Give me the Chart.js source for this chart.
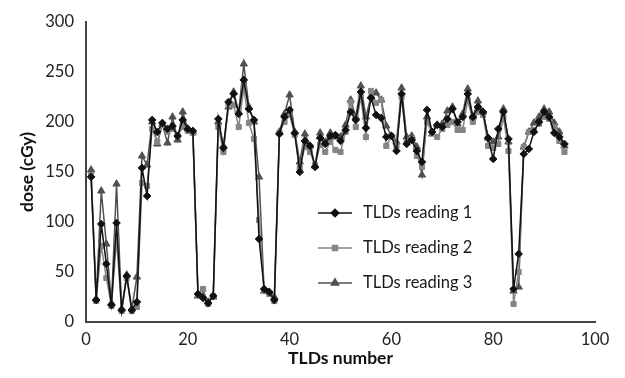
<!DOCTYPE html>
<html lang="en">
<head>
  <meta charset="UTF-8">
  <title>TLDs readings</title>
  <script src="https://cdn.jsdelivr.net/npm/chart.js"></script>
  <style>
    html, body {
      margin: 0;
      padding: 0;
      background: #fff;
    }
    .wrap {
      width: 625px;
      height: 378px;
    }
  </style>
</head>
<body>
<div class="wrap">
  <canvas id="doseChart" width="625" height="378"></canvas>
</div>

<script>
// TLD number (x axis)
const tldNumbers = [
  1, 2, 3, 4, 5, 6, 7, 8, 9, 10, 11, 12, 13, 14, 15, 16, 17, 18, 19, 20,
  21, 22, 23, 24, 25, 26, 27, 28, 29, 30, 31, 32, 33, 34, 35, 36, 37, 38, 39, 40,
  41, 42, 43, 44, 45, 46, 47, 48, 49, 50, 51, 52, 53, 54, 55, 56, 57, 58, 59, 60,
  61, 62, 63, 64, 65, 66, 67, 68, 69, 70, 71, 72, 73, 74, 75, 76, 77, 78, 79, 80,
  81, 82, 83, 84, 85, 86, 87, 88, 89, 90, 91, 92, 93, 94
];

// dose (cGy)
const reading1 = [
  145, 22, 98, 58, 17, 99, 12, 46, 12, 20, 154, 126, 202, 190, 199, 193, 196, 186, 202, 193,
  191, 28, 24, 19, 26, 203, 174, 220, 228, 208, 242, 213, 202, 83, 33, 30, 22, 188, 205, 212,
  189, 150, 181, 176, 155, 184, 178, 186, 187, 181, 192, 210, 202, 230, 194, 224, 207, 204, 185, 186,
  171, 228, 178, 182, 171, 160, 212, 190, 197, 195, 203, 213, 200, 205, 228, 205, 215, 210, 184, 163,
  193, 210, 183, 33, 68, 168, 173, 190, 200, 210, 205, 189, 185, 178
];
const reading2 = [
  147, 21, 76, 44, 16, 83, 11, 44, 11, 15, 139, 136, 193, 180, 197, 190, 193, 186, 195, 191,
  189, 27, 33, 18, 26, 195, 170, 217, 217, 195, 234, 199, 183, 102, 31, 28, 21, 189, 200, 207,
  187, 154, 175, 170, 157, 177, 170, 180, 172, 170, 190, 220, 195, 225, 185, 231, 219, 222, 176, 186,
  176, 225, 179, 183, 166, 155, 200, 189, 185, 193, 197, 200, 192, 192, 222, 200, 210, 207, 176, 174,
  178, 205, 171, 18, 50, 175, 190, 192, 198, 205, 203, 195, 181, 170
];
const reading3 = [
  152, 23, 131, 78, 19, 138, 13, 47, 13, 45, 166, 157, 200, 178, 198, 179, 205, 182, 210, 193,
  190, 26, 26, 20, 25, 200, 176, 215, 230, 210, 258, 215, 200, 145, 31, 30, 25, 190, 208, 227,
  190, 160, 188, 176, 156, 189, 180, 189, 185, 185, 197, 222, 205, 236, 205, 226, 229, 222, 196, 186,
  180, 234, 185, 186, 175, 147, 205, 188, 197, 198, 211, 215, 198, 208, 233, 205, 221, 210, 184, 180,
  185, 213, 180, 31, 35, 175, 190, 199, 205, 213, 210, 199, 190, 176
];

const seriesLabels = ['TLDs reading 1', 'TLDs reading 2', 'TLDs reading 3'];
const xTitle = 'TLDs number';
const yTitle = 'dose (cGy)';

const FONT = 'Lato, "Open Sans", sans-serif';

function toPoints(values) {
  return values.map((v, i) => ({ x: tldNumbers[i], y: v }));
}

// legend drawn inside the plot, like the original figure
const insideLegend = {
  id: 'insideLegend',
  afterDatasetsDraw(chart, args, opts) {
    const ctx = chart.ctx;
    ctx.save();
    chart.data.datasets.forEach((ds, i) => {
      const y = opts.y0 + i * opts.gap;
      ctx.strokeStyle = ds.borderColor;
      ctx.fillStyle = ds.borderColor;
      ctx.lineWidth = 1.5;
      ctx.beginPath();
      ctx.moveTo(opts.x0, y);
      ctx.lineTo(opts.x0 + opts.lineLen, y);
      ctx.stroke();
      Chart.helpers.drawPoint(ctx, {
        pointStyle: ds.pointStyle,
        radius: ds.pointRadius,
        borderWidth: 1
      }, opts.x0 + opts.lineLen / 2, y);
      ctx.fillStyle = '#1a1a1a';
      ctx.font = '16.5px ' + FONT;
      ctx.textBaseline = 'middle';
      ctx.textAlign = 'left';
      ctx.fillText(ds.label, opts.x0 + opts.lineLen + 11, y);
    });
    ctx.restore();
  }
};

const styles = [
  { color: '#111111', point: 'rectRot', r: 3.8 },
  { color: '#858585', point: 'rect', r: 3.6 },
  { color: '#505050', point: 'triangle', r: 4.2 }
];
const readings = [reading1, reading2, reading3];

const datasets = readings.map((vals, i) => ({
  label: seriesLabels[i],
  data: toPoints(vals),
  borderColor: styles[i].color,
  backgroundColor: styles[i].color,
  pointBackgroundColor: styles[i].color,
  pointBorderColor: styles[i].color,
  pointStyle: styles[i].point,
  pointRadius: styles[i].r,
  pointBorderWidth: 1,
  borderWidth: 1.5,
  tension: 0,
  fill: false,
  order: i // reading 1 on top
}));

const ctx = document.getElementById('doseChart').getContext('2d');
new Chart(ctx, {
  type: 'line',
  data: { datasets },
  options: {
    responsive: false,
    animation: false,
    layout: { padding: { left: 0, right: 30, top: 12, bottom: 0 } },
    plugins: {
      legend: { display: false },
      tooltip: { enabled: false },
      insideLegend: { x0: 318, y0: 213, gap: 35, lineLen: 34 }
    },
    scales: {
      x: {
        type: 'linear',
        min: 0,
        max: 100,
        ticks: { stepSize: 20, color: '#222', padding: 8, font: { family: FONT, size: 16.5 } },
        grid: { display: false, drawTicks: false },
        border: { color: '#444', width: 2 },
        title: {
          display: true,
          text: xTitle,
          color: '#111',
          padding: { top: 0, bottom: 9.5 },
          font: { family: FONT, size: 17.5, weight: 'bold' }
        },
        afterFit(scale) { scale.height = 56; }
      },
      y: {
        min: 0,
        max: 300,
        ticks: { stepSize: 50, color: '#222', padding: 12, font: { family: FONT, size: 16.5 } },
        grid: { display: false, drawTicks: false },
        border: { color: '#444', width: 2 },
        title: {
          display: true,
          text: yTitle,
          color: '#111',
          padding: { top: 16.5, bottom: 0 },
          font: { family: FONT, size: 17.5, weight: 'bold' }
        },
        afterFit(scale) { scale.width = 86; }
      }
    }
  },
  plugins: [insideLegend]
});
</script>
</body>
</html>
